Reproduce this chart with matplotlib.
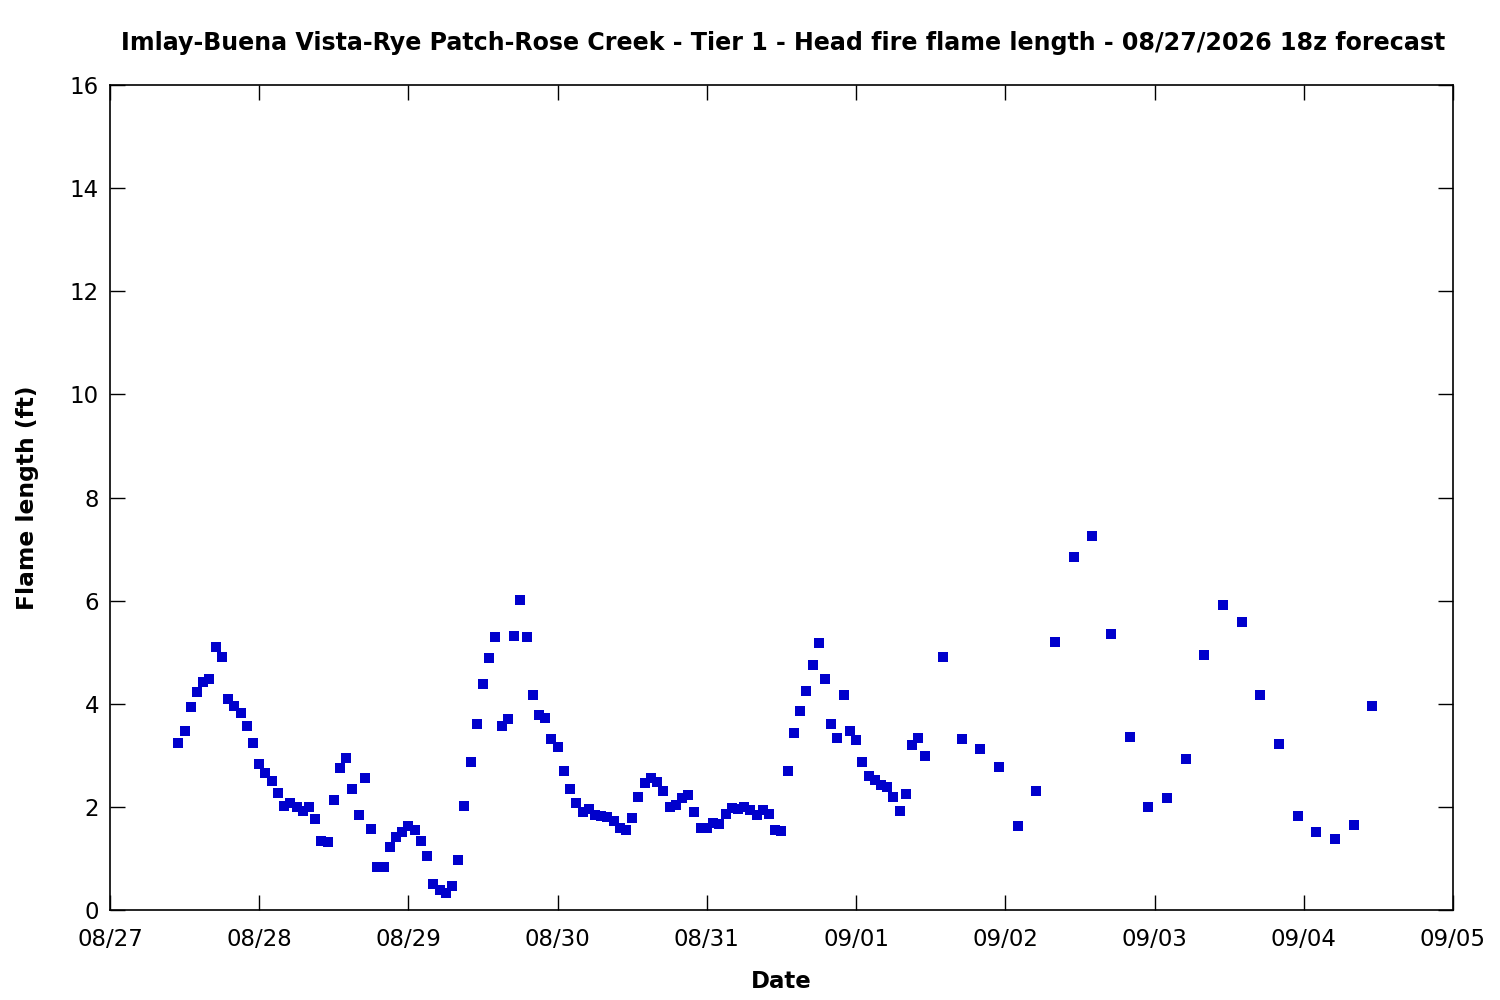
import matplotlib
matplotlib.use("Agg")
import matplotlib.pyplot as plt
import matplotlib.dates as mdates
import numpy as np
from datetime import datetime, timedelta

start = datetime(2026, 8, 27)

# hourly forecast hours (offset from 08/27 00:00) 11..131
hourly_hours = list(range(11, 132))
hourly_vals = [
    3.24, 3.47, 3.94, 4.23, 4.42, 4.48, 5.10, 4.91, 4.09, 3.96, 3.82, 3.57, 3.24,
    2.83, 2.66, 2.50, 2.27, 2.02, 2.08, 2.00, 1.92, 2.00, 1.76, 1.34, 1.32, 2.13,
    2.75, 2.95, 2.35, 1.84, 2.56, 1.57, 0.83, 0.83, 1.22, 1.42, 1.51, 1.63, 1.55,
    1.34, 1.05, 0.50, 0.39, 0.33, 0.47, 0.97, 2.02, 2.87, 3.61, 4.38, 4.89, 5.29,
    3.57, 3.70, 5.31, 6.01, 5.29, 4.17, 3.78, 3.72, 3.32, 3.16, 2.70, 2.35, 2.08,
    1.90, 1.96, 1.84, 1.82, 1.80, 1.73, 1.59, 1.55, 1.78, 2.19, 2.46, 2.56, 2.48,
    2.31, 2.00, 2.04, 2.17, 2.23, 1.90, 1.59, 1.59, 1.69, 1.67, 1.86, 1.98, 1.96,
    2.00, 1.94, 1.84, 1.94, 1.86, 1.55, 1.53, 2.70, 3.43, 3.86, 4.25, 4.75, 5.18,
    4.48, 3.61, 3.34, 4.17, 3.47, 3.30, 2.87, 2.60, 2.52, 2.42, 2.39, 2.19, 1.92,
    2.25, 3.20, 3.34, 2.99,
]
# 3-hourly forecast hours 134..203
three_hours = list(range(134, 204, 3))
three_vals = [
    4.91, 3.32, 3.12, 2.77, 1.63, 2.31, 5.20, 6.85, 7.25, 5.35, 3.36, 2.00,
    2.17, 2.93, 4.95, 5.92, 5.59, 4.17, 3.22, 1.82, 1.51, 1.38, 1.65, 3.96,
]

hours = hourly_hours + three_hours
vals = hourly_vals + three_vals
times = [start + timedelta(hours=h) for h in hours]

title = "Imlay-Buena Vista-Rye Patch-Rose Creek - Tier 1 - Head fire flame length - 08/27/2026 18z forecast"
tick_days = [start + timedelta(days=d) for d in range(10)]

fig = plt.figure(figsize=(15, 10), dpi=100)
ax = fig.add_axes([110/1500, 90/1000, (1453-110)/1500, (910-85)/1000])
ax.plot(times, vals, linestyle="none", marker="s", markersize=7,
        color="#0000cc", markeredgewidth=0)

ax.set_xlim(tick_days[0], tick_days[-1])
ax.set_ylim(0, 16)
ax.set_yticks(np.arange(0, 17, 2))
ax.set_xticks(tick_days)
ax.xaxis.set_major_formatter(mdates.DateFormatter("%m/%d"))
ax.tick_params(direction="in", length=11, width=1, top=True, right=True,
               labelsize=16.5)
ax.tick_params(axis="x", pad=13)
ax.tick_params(axis="y", pad=8)
for s in ax.spines.values():
    s.set_linewidth(1.2)

fig.text(783/1500, 1 - 43/1000, title, ha="center", va="center",
         fontsize=17.1, fontweight="bold")
ax.set_xlabel("Date", fontsize=16.5, fontweight="bold", labelpad=14)
ax.set_ylabel("Flame length (ft)", fontsize=16.8, fontweight="bold", labelpad=22)

fig.savefig("out.png", dpi=100)
